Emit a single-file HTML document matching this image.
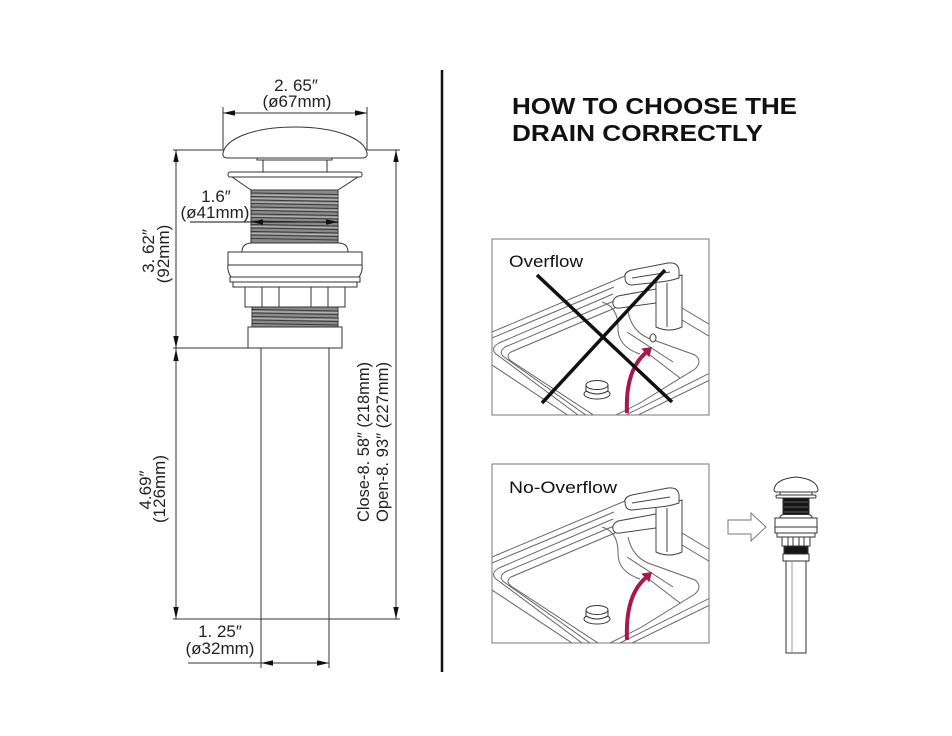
<!DOCTYPE html>
<html>
<head>
<meta charset="utf-8">
<style>
  html, body { margin:0; padding:0; background:#fff; }
  body { width:952px; height:736px; overflow:hidden; }
  svg { display:block; }
</style>
</head>
<body>
<svg width="952" height="736" viewBox="0 0 952 736" xmlns="http://www.w3.org/2000/svg" font-family="'Liberation Sans', Arial, sans-serif">
  <rect x="0" y="0" width="952" height="736" fill="#fff"/>
  <defs>
    <clipPath id="clipA" clipPathUnits="userSpaceOnUse"><rect x="492" y="239" width="217" height="176"/></clipPath>
    <clipPath id="clipB" clipPathUnits="userSpaceOnUse"><rect x="492" y="464" width="217" height="179"/></clipPath>
  </defs>

  <!-- ================= LEFT TECHNICAL DRAWING ================= -->
  <g stroke="#333" stroke-width="1" fill="none">
    <line x1="223" y1="107" x2="223" y2="150"/>
    <line x1="367" y1="107" x2="367" y2="150"/>
    <line x1="223" y1="113" x2="367" y2="113"/>
    <line x1="173" y1="150" x2="223" y2="150"/>
    <line x1="367" y1="150" x2="400" y2="150"/>
    <line x1="173" y1="348" x2="248" y2="348"/>
    <line x1="173" y1="619" x2="400" y2="619"/>
    <line x1="176" y1="150" x2="176" y2="619"/>
    <line x1="396" y1="150" x2="396" y2="619"/>
    <line x1="261" y1="348" x2="261" y2="668"/>
    <line x1="329" y1="348" x2="329" y2="668"/>
    <line x1="188" y1="663" x2="329" y2="663"/>
  </g>

  <g stroke="#333" stroke-width="1" fill="#fff">
    <path d="M223,153 C226,138 255,127 295,127 C335,127 364,138 367,153 Q368,158 362,158 L228,158 Q222,158 223,153 Z"/>
    <rect x="257" y="158" width="75" height="2"/>
    <rect x="263" y="160" width="64" height="12"/>
    <rect x="228" y="172" width="134" height="5" rx="2"/>
    <path d="M232,177 L358,177 L338,190 L251,190 Z"/>
    <rect x="251" y="190" width="87" height="53" fill="#8a8a8a"/>
    <path d="M242,252 Q242,243 252,243 L338,243 Q348,243 348,252 Z"/>
    <rect x="228" y="252" width="134" height="13"/>
    <path d="M228,265 L362,265 Q363,271 359,277 L231,277 Q227,271 228,265 Z"/>
    <rect x="230" y="277" width="130" height="5"/>
    <rect x="233" y="282" width="124" height="5"/>
    <rect x="245" y="287" width="100" height="20"/>
    <rect x="252" y="307" width="86" height="20" fill="#8a8a8a"/>
    <rect x="248" y="327" width="94" height="21"/>
  </g>
  <g stroke="#333" stroke-width="1">
    <line x1="262" y1="287" x2="262" y2="307"/>
    <line x1="279" y1="287" x2="279" y2="307"/>
    <line x1="311" y1="287" x2="311" y2="307"/>
    <line x1="328" y1="287" x2="328" y2="307"/>
  </g>
  <path stroke="#3a3a3a" stroke-width="1" fill="none"
    d="M251,193 L338,194.5 M251,196.5 L338,198 M251,200 L338,201.5 M251,203.5 L338,205 M251,207 L338,208.5 M251,210.5 L338,212 M251,214 L338,215.5 M251,217.5 L338,219 M251,221 L338,222.5 M251,224.5 L338,226 M251,228 L338,229.5 M251,231.5 L338,233 M251,235 L338,236.5 M251,238.5 L338,240
       M252,309.5 L338,311 M252,313 L338,314.5 M252,316.5 L338,318 M252,320 L338,321.5 M252,323.5 L338,325"/>
  <path stroke="#bdbdbd" stroke-width="0.8" fill="none"
    d="M251,195 L338,196.3 M251,198.5 L338,199.8 M251,202 L338,203.3 M251,209 L338,210.3 M251,216 L338,217.3 M251,226.5 L338,227.8 M251,233.5 L338,234.8 M252,311.5 L338,312.8 M252,318.5 L338,319.8"/>
  <line x1="190" y1="222" x2="338" y2="222" stroke="#111" stroke-width="1"/>

  <g fill="#111" stroke="none">
    <polygon points="223,113 235,110.3 235,115.7"/>
    <polygon points="367,113 355,110.3 355,115.7"/>
    <polygon points="251,222 263,219.3 263,224.7"/>
    <polygon points="338,222 326,219.3 326,224.7"/>
    <polygon points="176,150 173.3,162 178.7,162"/>
    <polygon points="176,348 173.3,336 178.7,336"/>
    <polygon points="176,349 173.3,361 178.7,361"/>
    <polygon points="176,619 173.3,607 178.7,607"/>
    <polygon points="396,150 393.3,162 398.7,162"/>
    <polygon points="396,619 393.3,607 398.7,607"/>
    <polygon points="261,663 273,660.3 273,665.7"/>
    <polygon points="329,663 317,660.3 317,665.7"/>
  </g>

  <g fill="#222" font-size="17">
    <text x="296" y="91" text-anchor="middle">2. 65″</text>
    <text x="297" y="107" text-anchor="middle">(ø67mm)</text>
    <text x="216" y="202" text-anchor="middle">1.6″</text>
    <text x="215" y="218" text-anchor="middle">(ø41mm)</text>
    <text x="220" y="637" text-anchor="middle">1. 25″</text>
    <text x="220" y="654" text-anchor="middle">(ø32mm)</text>
    <text transform="translate(154,251) rotate(-90)" text-anchor="middle">3. 62″</text>
    <text transform="translate(169,254) rotate(-90)" text-anchor="middle">(92mm)</text>
    <text transform="translate(151,490) rotate(-90)" text-anchor="middle">4.69″</text>
    <text transform="translate(165,489) rotate(-90)" text-anchor="middle">(126mm)</text>
    <text transform="translate(369,442) rotate(-90)" text-anchor="middle" textLength="160" lengthAdjust="spacingAndGlyphs">Close-8. 58″ (218mm)</text>
    <text transform="translate(388,442) rotate(-90)" text-anchor="middle" textLength="160" lengthAdjust="spacingAndGlyphs">Open-8. 93″ (227mm)</text>
  </g>

  <!-- ================= DIVIDER ================= -->
  <line x1="442" y1="70" x2="442" y2="672" stroke="#111" stroke-width="2.5"/>

  <!-- ================= TITLE ================= -->
  <g fill="#111" font-weight="bold" font-size="23">
    <text x="512" y="114" textLength="285" lengthAdjust="spacingAndGlyphs">HOW TO CHOOSE THE</text>
    <text x="512" y="141" textLength="251" lengthAdjust="spacingAndGlyphs">DRAIN CORRECTLY</text>
  </g>

  <!-- ================= OVERFLOW BOX ================= -->
  <g clip-path="url(#clipA)">
    <g transform="translate(0,-225)">
      <g fill="none" stroke="#666" stroke-width="1">
        <path d="M492,557 L625,501"/>
        <path d="M492,563 L614,512"/>
        <path d="M613,519 L499,568 Q490,573 496,579 L582,643"/>
        <path d="M614,526 L505,572 Q498,577 504,582 L590,643"/>
        <path d="M615,533 L511,577 Q505,581 511,586 L598,643"/>
        <path d="M492,590 L572,643"/>
        <path d="M682,533 L712,551"/>
        <path d="M682,545 L712,563"/>
        <path d="M628,537 Q632,556 648,563 L695,580 Q703,586 695,594 L640,628 L610,643"/>
        <path d="M712,597 L620,643"/>
        <path d="M712,604 L632,643"/>
        <path d="M602,527 Q619,532 618,555 Q619,572 640,579"/>
        <path d="M627,557 L673,587"/>
        <path d="M650,580 L680,603"/>
      </g>
      <g fill="#fff" stroke="#444" stroke-width="1">
        <path d="M656,507 L656,552 Q669,558 682,552 L682,500 Z"/>
        <path d="M656,514 L618,521 Q612,524 613,529 Q614,534 620,533 L656,528 Z"/>
        <path d="M625,502 Q624,497 632,495 L668,488 Q678,487 679,495 L679,503 Q670,506 660,507 L632,510 Q625,510 625,502 Z"/>
        <path d="M632,503 L670,497" fill="none"/>
        <path d="M667,508 L667,552" fill="none"/>
      </g>
      <ellipse cx="653" cy="563" rx="3" ry="4" fill="#fff" stroke="#444" stroke-width="1"/>
      <g fill="#fff" stroke="#333" stroke-width="1">
        <ellipse cx="597" cy="619" rx="13" ry="5"/>
        <path d="M586,610 L586,616 Q597,622 608,616 L608,610 Z"/>
        <ellipse cx="597" cy="610" rx="11" ry="4.5"/>
      </g>
      <path d="M627,638 Q625,596 645.5,578" fill="none" stroke="#a8174e" stroke-width="4"/>
      <polygon points="652,572 641.3,573.6 649.3,582.4" fill="#a8174e"/>
    </g>
    <g stroke="#111" stroke-width="3.5" stroke-linecap="butt">
      <line x1="537" y1="275" x2="672" y2="402"/>
      <line x1="542" y1="403" x2="665" y2="270"/>
    </g>
  </g>
  <rect x="492" y="239" width="217" height="176" fill="none" stroke="#777" stroke-width="1"/>
  <text x="509" y="267" font-size="17" fill="#111" textLength="74" lengthAdjust="spacingAndGlyphs">Overflow</text>

  <!-- ================= NO-OVERFLOW BOX ================= -->
  <g clip-path="url(#clipB)">
    <g fill="none" stroke="#666" stroke-width="1">
      <path d="M492,557 L625,501"/>
      <path d="M492,563 L614,512"/>
      <path d="M613,519 L499,568 Q490,573 496,579 L582,643"/>
      <path d="M614,526 L505,572 Q498,577 504,582 L590,643"/>
      <path d="M615,533 L511,577 Q505,581 511,586 L598,643"/>
      <path d="M492,590 L572,643"/>
      <path d="M682,533 L712,551"/>
      <path d="M682,545 L712,563"/>
      <path d="M628,537 Q632,556 648,563 L695,580 Q703,586 695,594 L640,628 L610,643"/>
      <path d="M712,597 L620,643"/>
      <path d="M712,604 L632,643"/>
      <path d="M602,527 Q619,532 618,555 Q619,572 640,579"/>
      <path d="M627,557 L673,587"/>
      <path d="M650,580 L680,603"/>
    </g>
    <g fill="#fff" stroke="#444" stroke-width="1">
      <path d="M656,507 L656,552 Q669,558 682,552 L682,500 Z"/>
      <path d="M656,514 L618,521 Q612,524 613,529 Q614,534 620,533 L656,528 Z"/>
      <path d="M625,502 Q624,497 632,495 L668,488 Q678,487 679,495 L679,503 Q670,506 660,507 L632,510 Q625,510 625,502 Z"/>
      <path d="M632,503 L670,497" fill="none"/>
      <path d="M667,508 L667,552" fill="none"/>
    </g>
    <g fill="#fff" stroke="#333" stroke-width="1">
      <ellipse cx="597" cy="619" rx="13" ry="5"/>
      <path d="M586,610 L586,616 Q597,622 608,616 L608,610 Z"/>
      <ellipse cx="597" cy="610" rx="11" ry="4.5"/>
    </g>
    <path d="M627,640 Q625,596 645.5,578" fill="none" stroke="#a8174e" stroke-width="4"/>
    <polygon points="652,572 641.3,573.6 649.3,582.4" fill="#a8174e"/>
  </g>
  <rect x="492" y="464" width="217" height="179" fill="none" stroke="#777" stroke-width="1"/>
  <text x="509" y="493" font-size="17" fill="#111" textLength="108" lengthAdjust="spacingAndGlyphs">No-Overflow</text>

  <!-- ================= HOLLOW ARROW ================= -->
  <polygon points="728,520 751,520 751,513 766,527 751,541 751,534 728,534" fill="#fff" stroke="#777" stroke-width="1"/>

  <!-- ================= SMALL DRAIN ================= -->
  <g stroke="#333" stroke-width="1" fill="#fff">
    <rect x="786" y="560" width="20" height="93"/>
    <path d="M774,490 Q775,479 796,477 Q817,479 818,490 Q818,492 815,492 L777,492 Q774,492 774,490 Z"/>
    <rect x="780" y="492" width="32" height="3"/>
    <rect x="776" y="495" width="40" height="3" rx="1.5"/>
    <rect x="783" y="498" width="26" height="17" fill="#151515"/>
    <path d="M780,518 Q780,514.5 784,514.5 L808,514.5 Q812,514.5 812,518 Z"/>
    <rect x="775" y="518" width="42" height="9"/>
    <rect x="775" y="527" width="42" height="6"/>
    <rect x="777" y="533" width="38" height="4"/>
    <rect x="782" y="537" width="28" height="9"/>
    <rect x="784" y="546" width="24" height="8" fill="#151515"/>
    <rect x="783" y="554" width="26" height="7"/>
  </g>
  <g stroke="#333" stroke-width="1">
    <line x1="788" y1="537" x2="788" y2="546"/>
    <line x1="793" y1="537" x2="793" y2="546"/>
    <line x1="799" y1="537" x2="799" y2="546"/>
    <line x1="804" y1="537" x2="804" y2="546"/>
    <line x1="792" y1="561" x2="792" y2="652" stroke="#999"/>
  </g>
  <g stroke="#777" stroke-width="0.8">
    <line x1="784" y1="502" x2="808" y2="502"/>
    <line x1="784" y1="507" x2="808" y2="507"/>
    <line x1="784" y1="512" x2="808" y2="512"/>
  </g>
</svg>
</body>
</html>
